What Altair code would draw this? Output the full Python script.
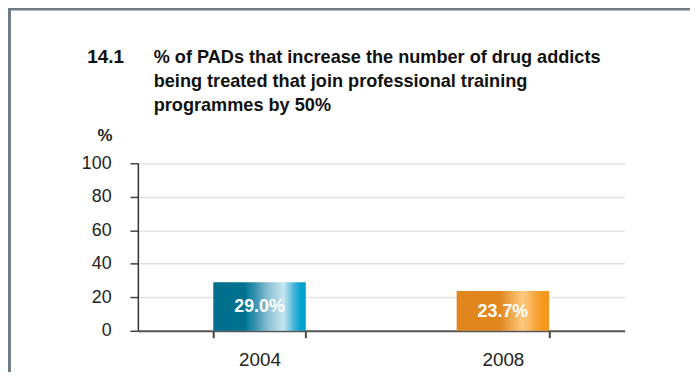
import altair as alt
import pandas as pd

# ---- data ----
years = ["2004", "2008"]
values = [29.0, 23.7]
bar_labels = ["29.0%", "23.7%"]
y_ticks = [0, 20, 40, 60, 80, 100]
title_number = "14.1"
title_lines = [
    "% of PADs that increase the number of drug addicts",
    "being treated that join professional training",
    "programmes by 50%",
]
y_title = "%"

df = pd.DataFrame({"year": years, "value": values, "label": bar_labels})

BOLD = "Liberation Sans, Arial, sans-serif"
REG = "Liberation Sans, Arial, sans-serif"
FRAME = "#6F7C85"

teal = alt.Gradient(
    gradient="linear", x1=0, x2=1, y1=0, y2=0,
    stops=[
        alt.GradientStop(color="#006F8C", offset=0.0),
        alt.GradientStop(color="#00718E", offset=0.34),
        alt.GradientStop(color="#15809E", offset=0.38),
        alt.GradientStop(color="#2E8FAB", offset=0.44),
        alt.GradientStop(color="#5BA5BF", offset=0.51),
        alt.GradientStop(color="#8FC4D6", offset=0.60),
        alt.GradientStop(color="#A8D2E0", offset=0.67),
        alt.GradientStop(color="#C5E5F0", offset=0.76),
        alt.GradientStop(color="#8FD0E6", offset=0.81),
        alt.GradientStop(color="#47B5DA", offset=0.87),
        alt.GradientStop(color="#05A2CF", offset=0.94),
        alt.GradientStop(color="#009FCB", offset=1.0),
    ],
)
orange = alt.Gradient(
    gradient="linear", x1=0, x2=1, y1=0, y2=0,
    stops=[
        alt.GradientStop(color="#E0861C", offset=0.0),
        alt.GradientStop(color="#E1871D", offset=0.47),
        alt.GradientStop(color="#E89A3A", offset=0.53),
        alt.GradientStop(color="#F2B159", offset=0.62),
        alt.GradientStop(color="#FFC97C", offset=0.71),
        alt.GradientStop(color="#FCC06C", offset=0.76),
        alt.GradientStop(color="#F8A63D", offset=0.85),
        alt.GradientStop(color="#F5991F", offset=0.93),
        alt.GradientStop(color="#F7941D", offset=1.0),
    ],
)

x_scale = alt.Scale(domain=years, paddingInner=0.62, paddingOuter=0.31)
y_scale = alt.Scale(domain=[0, 100])

x_axis = alt.Axis(
    title=None, labelAngle=0, labelFont=REG, labelFontSize=19,
    labelColor="#222222", labelPadding=13, tickBand="extent",
    tickSize=7, tickColor="#444444", tickWidth=2,
    domainColor="#555555", domainWidth=2, grid=False,
)
y_axis = alt.Axis(
    values=y_ticks, title=y_title, titleAngle=0, titleAlign="right",
    titleBaseline="alphabetic", titleX=-26, titleY=-23,
    titleFont=BOLD, titleFontSize=17, titleFontWeight="bold",
    titleColor="#222222", labelFont=REG, labelFontSize=18,
    labelColor="#222222", labelPadding=19, tickSize=8,
    tickColor="#444444", tickWidth=1.5, domainColor="#333333",
    domainWidth=1.5, grid=True, gridColor="#E3E3E3", gridWidth=1.5,
)

x_enc = alt.X("year:N", scale=x_scale, sort=years, axis=x_axis)
y_enc = alt.Y("value:Q", scale=y_scale, axis=y_axis)

base = alt.Chart(df)
bar04 = base.transform_filter(alt.datum.year == years[0]).mark_bar(
    color=teal).encode(x=x_enc, y=y_enc)
bar08 = base.transform_filter(alt.datum.year == years[1]).mark_bar(
    color=orange).encode(x=x_enc, y=y_enc)

texts = base.transform_calculate(mid="datum.value / 2").mark_text(
    color="white", font=BOLD, fontWeight="bold", fontSize=18,
    baseline="middle", dy=1,
).encode(
    x=x_enc,
    y=alt.Y("mid:Q", scale=y_scale, axis=y_axis),
    text="label:N",
)

one = alt.Data(values=[{"k": 1}])
frame_left = alt.Chart(one).mark_rule(color=FRAME, strokeWidth=3).encode(
    x=alt.value(-129.5), y=alt.value(-157), y2=alt.value(240))
frame_top = alt.Chart(one).mark_rule(color=FRAME, strokeWidth=3).encode(
    x=alt.value(-131), x2=alt.value(600), y=alt.value(-155.7))

head_num = alt.Chart(one).mark_text(
    text=title_number, font=BOLD, fontWeight="bold", fontSize=19,
    align="left", baseline="alphabetic", color="#111111",
).encode(x=alt.value(-51), y=alt.value(-101))
head_txt = alt.Chart(one).mark_text(
    text=title_lines, font=BOLD, fontWeight="bold", fontSize=18.3,
    align="left", baseline="alphabetic", lineHeight=24, color="#111111",
).encode(x=alt.value(16), y=alt.value(-101))

chart = alt.layer(
    bar04, bar08, texts, frame_left, frame_top, head_num, head_txt
).properties(
    width=491, height=169,
    autosize=alt.AutoSizeParams(type="none"),
    padding={"left": 131, "top": 155, "right": 66, "bottom": 40},
).configure(background="white").configure_view(stroke=None)

chart.save("out.html", embed_options={"renderer": "svg", "actions": False})
